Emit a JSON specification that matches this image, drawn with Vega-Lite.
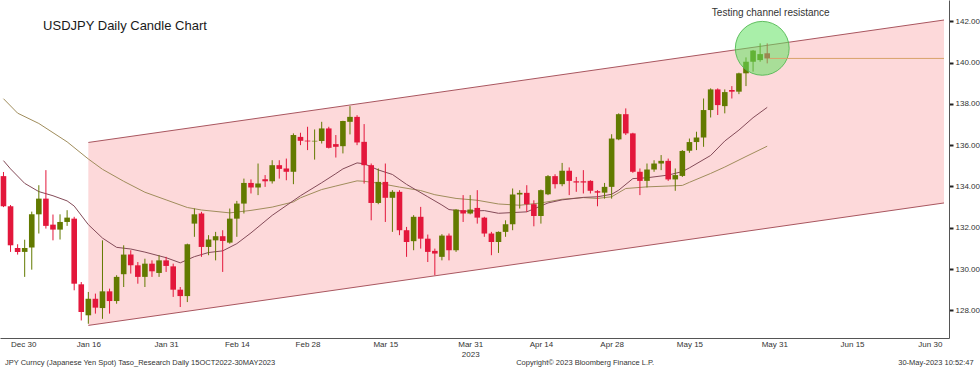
{
  "$schema": "https://vega.github.io/schema/vega-lite/v6.json",
  "width": 949,
  "height": 338,
  "autosize": {"type": "none"},
  "padding": {"left": 0, "top": 0, "right": 31, "bottom": 30},
  "background": "white",
  "config": {
    "view": {"stroke": null},
    "font": "Liberation Sans",
    "axis": {"grid": false, "labelFont": "Liberation Sans", "labelFontSize": 8, "labelColor": "#333333", "domainColor": "#555555", "tickColor": "#333333"}
  },
  "datasets": {
    "candles": [
      {"i": -1, "o": 134.50, "h": 134.70, "l": 133.00, "c": 133.04},
      {"i": 0, "o": 133.04, "h": 133.10, "l": 130.83, "c": 131.15},
      {"i": 1, "o": 131.02, "h": 131.20, "l": 130.70, "c": 130.83},
      {"i": 2, "o": 130.83, "h": 131.42, "l": 129.62, "c": 131.02},
      {"i": 3, "o": 131.04, "h": 132.78, "l": 129.97, "c": 132.65},
      {"i": 4, "o": 132.65, "h": 134.06, "l": 131.72, "c": 133.41},
      {"i": 5, "o": 133.41, "h": 134.79, "l": 131.96, "c": 132.09},
      {"i": 6, "o": 132.15, "h": 132.64, "l": 131.39, "c": 131.91},
      {"i": 7, "o": 131.91, "h": 132.65, "l": 131.43, "c": 132.28},
      {"i": 8, "o": 132.28, "h": 132.85, "l": 132.09, "c": 132.49},
      {"i": 9, "o": 132.44, "h": 132.53, "l": 128.97, "c": 129.29},
      {"i": 10, "o": 129.26, "h": 129.37, "l": 127.51, "c": 127.92},
      {"i": 11, "o": 127.76, "h": 128.89, "l": 127.35, "c": 128.56},
      {"i": 12, "o": 128.56, "h": 128.81, "l": 127.84, "c": 128.13},
      {"i": 13, "o": 128.11, "h": 131.39, "l": 127.59, "c": 128.92},
      {"i": 14, "o": 128.92, "h": 129.05, "l": 127.84, "c": 128.45},
      {"i": 15, "o": 128.45, "h": 129.70, "l": 128.32, "c": 129.62},
      {"i": 16, "o": 129.75, "h": 131.15, "l": 129.13, "c": 130.70},
      {"i": 17, "o": 130.70, "h": 130.91, "l": 129.78, "c": 130.18},
      {"i": 18, "o": 130.18, "h": 130.34, "l": 129.29, "c": 129.62},
      {"i": 19, "o": 129.62, "h": 130.50, "l": 129.13, "c": 130.26},
      {"i": 20, "o": 130.26, "h": 130.42, "l": 129.62, "c": 129.89},
      {"i": 21, "o": 129.81, "h": 130.67, "l": 129.62, "c": 130.42},
      {"i": 22, "o": 130.42, "h": 130.59, "l": 129.86, "c": 130.15},
      {"i": 23, "o": 130.13, "h": 130.26, "l": 128.65, "c": 129.00},
      {"i": 24, "o": 129.00, "h": 129.13, "l": 128.16, "c": 128.69},
      {"i": 25, "o": 128.69, "h": 131.23, "l": 128.40, "c": 131.20},
      {"i": 26, "o": 132.20, "h": 132.93, "l": 131.56, "c": 132.65},
      {"i": 27, "o": 132.69, "h": 132.77, "l": 130.59, "c": 131.07},
      {"i": 28, "o": 131.07, "h": 131.64, "l": 130.67, "c": 131.43},
      {"i": 29, "o": 131.39, "h": 131.80, "l": 130.42, "c": 131.59},
      {"i": 30, "o": 131.59, "h": 131.88, "l": 129.86, "c": 131.36},
      {"i": 31, "o": 131.28, "h": 132.93, "l": 131.23, "c": 132.44},
      {"i": 32, "o": 132.44, "h": 133.30, "l": 131.56, "c": 133.17},
      {"i": 33, "o": 133.17, "h": 134.38, "l": 132.69, "c": 134.17},
      {"i": 34, "o": 134.17, "h": 134.34, "l": 133.66, "c": 133.95},
      {"i": 35, "o": 133.95, "h": 135.11, "l": 133.58, "c": 134.14},
      {"i": 36, "o": 134.35, "h": 134.55, "l": 133.98, "c": 134.25},
      {"i": 37, "o": 134.25, "h": 135.27, "l": 134.14, "c": 135.03},
      {"i": 38, "o": 135.03, "h": 135.27, "l": 134.38, "c": 134.85},
      {"i": 39, "o": 134.87, "h": 135.35, "l": 134.30, "c": 134.71},
      {"i": 40, "o": 134.71, "h": 136.57, "l": 134.11, "c": 136.49},
      {"i": 41, "o": 136.40, "h": 136.60, "l": 136.00, "c": 136.21},
      {"i": 42, "o": 136.22, "h": 136.89, "l": 135.76, "c": 136.18},
      {"i": 43, "o": 136.18, "h": 136.76, "l": 135.30, "c": 136.21},
      {"i": 44, "o": 136.20, "h": 137.13, "l": 136.08, "c": 136.81},
      {"i": 45, "o": 136.81, "h": 136.89, "l": 135.84, "c": 135.87},
      {"i": 46, "o": 136.05, "h": 136.49, "l": 135.40, "c": 135.92},
      {"i": 47, "o": 135.95, "h": 137.18, "l": 135.60, "c": 137.17},
      {"i": 48, "o": 137.13, "h": 137.89, "l": 136.52, "c": 137.37},
      {"i": 49, "o": 137.37, "h": 137.45, "l": 136.00, "c": 136.13},
      {"i": 50, "o": 136.16, "h": 137.02, "l": 134.14, "c": 135.03},
      {"i": 51, "o": 135.03, "h": 135.11, "l": 132.36, "c": 133.20},
      {"i": 52, "o": 133.20, "h": 134.87, "l": 133.14, "c": 134.22},
      {"i": 53, "o": 134.22, "h": 135.11, "l": 132.28, "c": 133.45},
      {"i": 54, "o": 133.45, "h": 133.82, "l": 131.80, "c": 133.74},
      {"i": 55, "o": 133.74, "h": 133.82, "l": 131.64, "c": 131.88},
      {"i": 56, "o": 131.88, "h": 132.04, "l": 130.59, "c": 131.31},
      {"i": 57, "o": 131.35, "h": 132.61, "l": 130.91, "c": 132.53},
      {"i": 58, "o": 132.53, "h": 133.01, "l": 130.99, "c": 131.47},
      {"i": 59, "o": 131.47, "h": 131.67, "l": 130.34, "c": 130.83},
      {"i": 60, "o": 130.88, "h": 130.99, "l": 129.70, "c": 130.75},
      {"i": 61, "o": 130.59, "h": 131.69, "l": 130.42, "c": 131.62},
      {"i": 62, "o": 131.62, "h": 131.72, "l": 130.42, "c": 130.91},
      {"i": 63, "o": 130.91, "h": 132.90, "l": 130.83, "c": 132.88},
      {"i": 64, "o": 132.85, "h": 133.58, "l": 132.28, "c": 132.69},
      {"i": 65, "o": 132.69, "h": 133.58, "l": 132.65, "c": 132.88},
      {"i": 66, "o": 132.96, "h": 133.82, "l": 132.20, "c": 132.49},
      {"i": 67, "o": 132.49, "h": 132.53, "l": 131.56, "c": 131.72},
      {"i": 68, "o": 131.72, "h": 131.80, "l": 130.67, "c": 131.31},
      {"i": 69, "o": 131.31, "h": 131.82, "l": 130.78, "c": 131.80},
      {"i": 70, "o": 131.80, "h": 132.36, "l": 131.56, "c": 132.17},
      {"i": 71, "o": 132.17, "h": 133.90, "l": 131.88, "c": 133.61},
      {"i": 72, "o": 133.61, "h": 133.82, "l": 132.93, "c": 133.69},
      {"i": 73, "o": 133.69, "h": 134.06, "l": 132.77, "c": 133.14},
      {"i": 74, "o": 133.14, "h": 133.33, "l": 132.07, "c": 132.57},
      {"i": 75, "o": 132.57, "h": 133.85, "l": 132.20, "c": 133.82},
      {"i": 76, "o": 133.62, "h": 134.55, "l": 133.58, "c": 134.50},
      {"i": 77, "o": 134.50, "h": 134.59, "l": 133.90, "c": 134.11},
      {"i": 78, "o": 134.11, "h": 135.14, "l": 134.01, "c": 134.76},
      {"i": 79, "o": 134.76, "h": 134.92, "l": 133.58, "c": 134.27},
      {"i": 80, "o": 134.25, "h": 134.46, "l": 133.74, "c": 134.19},
      {"i": 81, "o": 134.25, "h": 134.79, "l": 133.66, "c": 134.19},
      {"i": 82, "o": 134.27, "h": 134.30, "l": 133.66, "c": 133.79},
      {"i": 83, "o": 133.77, "h": 133.82, "l": 133.04, "c": 133.70},
      {"i": 84, "o": 133.70, "h": 134.17, "l": 133.41, "c": 133.98},
      {"i": 85, "o": 133.98, "h": 136.53, "l": 133.41, "c": 136.32},
      {"i": 86, "o": 136.28, "h": 137.54, "l": 136.24, "c": 137.50},
      {"i": 87, "o": 137.50, "h": 137.78, "l": 136.49, "c": 136.57},
      {"i": 88, "o": 136.57, "h": 136.60, "l": 134.66, "c": 134.71},
      {"i": 89, "o": 134.71, "h": 134.87, "l": 133.58, "c": 134.27},
      {"i": 90, "o": 134.27, "h": 135.11, "l": 133.95, "c": 134.82},
      {"i": 91, "o": 134.82, "h": 135.27, "l": 134.71, "c": 135.11},
      {"i": 92, "o": 135.11, "h": 135.52, "l": 134.79, "c": 135.24},
      {"i": 93, "o": 135.24, "h": 135.35, "l": 134.27, "c": 134.34},
      {"i": 94, "o": 134.34, "h": 134.87, "l": 133.79, "c": 134.55},
      {"i": 95, "o": 134.51, "h": 135.76, "l": 134.46, "c": 135.72},
      {"i": 96, "o": 135.73, "h": 136.32, "l": 135.63, "c": 136.15},
      {"i": 97, "o": 136.15, "h": 136.65, "l": 135.76, "c": 136.37},
      {"i": 98, "o": 136.37, "h": 138.26, "l": 135.92, "c": 137.70},
      {"i": 99, "o": 137.70, "h": 138.75, "l": 137.34, "c": 138.70},
      {"i": 100, "o": 138.70, "h": 138.75, "l": 137.46, "c": 137.94},
      {"i": 101, "o": 137.89, "h": 138.70, "l": 137.54, "c": 138.57},
      {"i": 102, "o": 138.67, "h": 138.86, "l": 138.26, "c": 138.59},
      {"i": 103, "o": 138.59, "h": 139.51, "l": 138.47, "c": 139.48},
      {"i": 104, "o": 139.48, "h": 140.25, "l": 138.86, "c": 140.04},
      {"i": 105, "o": 140.04, "h": 140.61, "l": 139.56, "c": 140.58},
      {"i": 106, "o": 140.12, "h": 140.93, "l": 140.04, "c": 140.41},
      {"i": 107, "o": 140.45, "h": 140.93, "l": 139.96, "c": 140.20}
    ],
    "ma1": [
      {"i": -1, "v": 135.25}, {"i": 0, "v": 134.85}, {"i": 2, "v": 134.15}, {"i": 4, "v": 133.75},
      {"i": 6, "v": 133.55}, {"i": 8, "v": 133.3}, {"i": 9, "v": 133.05}, {"i": 11, "v": 132.15},
      {"i": 13, "v": 131.5}, {"i": 15, "v": 131.05}, {"i": 17, "v": 130.97}, {"i": 19, "v": 130.82},
      {"i": 22, "v": 130.55}, {"i": 24, "v": 130.3}, {"i": 26, "v": 130.6}, {"i": 28, "v": 130.8},
      {"i": 30, "v": 130.88}, {"i": 32, "v": 131.23}, {"i": 34, "v": 131.75}, {"i": 37, "v": 132.6},
      {"i": 41, "v": 133.55}, {"i": 44, "v": 134.18}, {"i": 46, "v": 134.62}, {"i": 47, "v": 134.85},
      {"i": 49, "v": 135.14}, {"i": 50, "v": 135.1}, {"i": 52, "v": 134.8}, {"i": 54, "v": 134.58},
      {"i": 56, "v": 134.1}, {"i": 59, "v": 133.5}, {"i": 61, "v": 133.1}, {"i": 62, "v": 132.88},
      {"i": 64, "v": 132.8}, {"i": 67, "v": 132.83}, {"i": 69, "v": 132.7}, {"i": 73, "v": 132.77},
      {"i": 76, "v": 133.2}, {"i": 78, "v": 133.35}, {"i": 81, "v": 133.47}, {"i": 83, "v": 133.5},
      {"i": 85, "v": 133.62}, {"i": 86, "v": 133.82}, {"i": 88, "v": 134.38}, {"i": 90, "v": 134.42},
      {"i": 93, "v": 134.55}, {"i": 95, "v": 134.72}, {"i": 96, "v": 134.9}, {"i": 99, "v": 135.5},
      {"i": 101, "v": 136.2}, {"i": 103, "v": 136.73}, {"i": 105, "v": 137.33}, {"i": 107, "v": 137.83}
    ],
    "ma2": [
      {"i": -1, "v": 138.25}, {"i": 1, "v": 137.55}, {"i": 4, "v": 137.05}, {"i": 8, "v": 136.16},
      {"i": 11, "v": 135.33}, {"i": 13, "v": 134.83}, {"i": 16, "v": 134.25}, {"i": 19, "v": 133.72},
      {"i": 22, "v": 133.35}, {"i": 25, "v": 132.98}, {"i": 27, "v": 132.86}, {"i": 31, "v": 132.72},
      {"i": 34, "v": 132.84}, {"i": 37, "v": 133.0}, {"i": 40, "v": 133.25}, {"i": 41, "v": 133.45},
      {"i": 44, "v": 133.85}, {"i": 46, "v": 134.02}, {"i": 49, "v": 134.27}, {"i": 50, "v": 134.25},
      {"i": 52, "v": 134.16}, {"i": 55, "v": 133.97}, {"i": 58, "v": 133.8}, {"i": 60, "v": 133.6},
      {"i": 63, "v": 133.42}, {"i": 66, "v": 133.33}, {"i": 69, "v": 133.15}, {"i": 72, "v": 133.09},
      {"i": 75, "v": 133.2}, {"i": 78, "v": 133.38}, {"i": 81, "v": 133.46}, {"i": 83, "v": 133.42},
      {"i": 85, "v": 133.5}, {"i": 87, "v": 133.9}, {"i": 90, "v": 133.98}, {"i": 93, "v": 134.02},
      {"i": 95, "v": 134.05}, {"i": 96, "v": 134.2}, {"i": 99, "v": 134.63}, {"i": 101, "v": 134.94},
      {"i": 104, "v": 135.45}, {"i": 107, "v": 135.95}
    ],
    "channel": [
      {"i": 11, "lo": 127.27, "hi": 136.13},
      {"i": 132, "lo": 133.2, "hi": 142.06}
    ],
    "one": [{"k": 1}]
  },
  "layer": [
    {
      "encoding": {
        "x": {
          "field": "i", "type": "quantitative", "title": null,
          "scale": {"domain": [-0.784, 132], "nice": false, "zero": false},
          "axis": {
            "values": [0, 5.5, 11, 16.5, 22, 27, 32, 37, 42, 47.5, 53, 59, 65, 70, 75, 80, 85, 90.5, 96, 102, 108, 113.5, 119, 124.5, 130],
            "labelExpr": "datum.value == 65 ? ['Mar 31', '2023'] : (indexof([0,11,22,32,42,53,75,85,96,108,119,130], datum.value) >= 0 ? ['Dec 30','Jan 16','Jan 31','Feb 14','Feb 28','Mar 15','Apr 14','Apr 28','May 15','May 31','Jun 15','Jun 30'][indexof([0,11,22,32,42,53,75,85,96,108,119,130], datum.value)] : '')",
            "tickOpacity": {"condition": {"test": "indexof([0,11,22,32,42,53,65,75,85,96,108,119,130], datum.value) >= 0", "value": 0}, "value": 1},
            "labelAlign": {"condition": {"test": "datum.value == 0", "value": "left"}, "value": "center"},
            "tickSize": 3,
            "labelPadding": -1,
            "labelLineHeight": 10,
            "labelOverlap": false,
            "labelBound": false,
            "domainColor": "#555555"
          }
        }
      },
      "layer": [
        {
          "data": {"name": "channel"},
          "mark": {"type": "area", "color": "#fdd9da", "clip": true},
          "encoding": {
            "y": {"field": "hi", "type": "quantitative", "title": null, "scale": {"domain": [126.66, 143.03], "nice": false, "zero": false}},
            "y2": {"field": "lo"}
          }
        },
        {
          "data": {"name": "channel"},
          "mark": {"type": "line", "color": "#a9565f", "strokeWidth": 1, "clip": true},
          "encoding": {
            "y": {"field": "hi", "type": "quantitative", "title": null, "scale": {"domain": [126.66, 143.03], "nice": false, "zero": false}}
          }
        },
        {
          "data": {"name": "channel"},
          "mark": {"type": "line", "color": "#a9565f", "strokeWidth": 1, "clip": true},
          "encoding": {
            "y": {"field": "lo", "type": "quantitative", "title": null, "scale": {"domain": [126.66, 143.03], "nice": false, "zero": false}}
          }
        },
        {
          "data": {"name": "ma2"},
          "mark": {"type": "line", "color": "#a08d5c", "strokeWidth": 1, "clip": true},
          "encoding": {
            "y": {"field": "v", "type": "quantitative", "title": null, "scale": {"domain": [126.66, 143.03], "nice": false, "zero": false}}
          }
        },
        {
          "data": {"name": "ma1"},
          "mark": {"type": "line", "color": "#844b58", "strokeWidth": 1, "clip": true},
          "encoding": {
            "y": {"field": "v", "type": "quantitative", "title": null, "scale": {"domain": [126.66, 143.03], "nice": false, "zero": false}}
          }
        },
        {
          "data": {"name": "candles"},
          "mark": {"type": "rule", "strokeWidth": 1, "clip": true},
          "encoding": {
            "y": {
              "field": "l", "type": "quantitative", "title": null,
              "scale": {"domain": [126.66, 143.03], "nice": false, "zero": false},
              "axis": {
                "orient": "right",
                "values": [128, 130, 132, 134, 136, 138, 140, 142],
                "format": ".2f",
                "tickSize": 4,
                "tickWidth": 2,
                "tickColor": "#222222",
                "labelPadding": 2,
                "labelOverlap": false,
                "domainColor": "#555555"
              }
            },
            "y2": {"field": "h"},
            "color": {"condition": {"test": "datum.c >= datum.o", "value": "#627a00"}, "value": "#e3173b"}
          }
        },
        {
          "data": {"name": "candles"},
          "mark": {"type": "bar", "width": 5.6, "clip": true},
          "encoding": {
            "y": {"field": "o", "type": "quantitative", "title": null, "scale": {"domain": [126.66, 143.03], "nice": false, "zero": false}},
            "y2": {"field": "c"},
            "color": {"condition": {"test": "datum.c >= datum.o", "value": "#627a00"}, "value": "#e3173b"}
          }
        }
      ]
    },
    {
      "data": {"name": "one"},
      "mark": {"type": "point", "shape": "circle", "filled": true, "size": 2900, "fill": "#62e262", "fillOpacity": 0.55, "stroke": "#52b852", "strokeWidth": 1, "strokeOpacity": 0.9},
      "encoding": {
        "x": {"datum": 106.3, "type": "quantitative"},
        "y": {"datum": 140.69, "type": "quantitative"}
      }
    },
    {
      "data": {"name": "one"},
      "mark": {"type": "rule", "color": "#d9a46a", "strokeWidth": 1},
      "encoding": {
        "x": {"datum": 107.3, "type": "quantitative"},
        "x2": {"datum": 132},
        "y": {"datum": 140.2, "type": "quantitative"}
      }
    },
    {
      "data": {"name": "one"},
      "mark": {"type": "text", "align": "left", "baseline": "middle", "fontSize": 13, "color": "#1a1a1a", "font": "Liberation Sans"},
      "encoding": {
        "x": {"datum": 4.6, "type": "quantitative"},
        "y": {"datum": 141.77, "type": "quantitative"},
        "text": {"value": "USDJPY Daily Candle Chart"}
      }
    },
    {
      "data": {"name": "one"},
      "mark": {"type": "text", "align": "center", "baseline": "middle", "fontSize": 10, "color": "#333333", "font": "Liberation Sans"},
      "encoding": {
        "x": {"datum": 107.5, "type": "quantitative"},
        "y": {"datum": 142.42, "type": "quantitative"},
        "text": {"value": "Testing channel resistance"}
      }
    },
    {
      "data": {"name": "one"},
      "mark": {"type": "text", "align": "left", "baseline": "middle", "fontSize": 7.5, "color": "#333333", "font": "Liberation Sans"},
      "encoding": {
        "x": {"datum": -0.784, "type": "quantitative"},
        "y": {"datum": 125.46, "type": "quantitative"},
        "text": {"value": "JPY Curncy (Japanese Yen Spot) Taso_Research  Daily 15OCT2022-30MAY2023"}
      }
    },
    {
      "data": {"name": "one"},
      "mark": {"type": "text", "align": "left", "baseline": "middle", "fontSize": 7.5, "color": "#333333", "font": "Liberation Sans"},
      "encoding": {
        "x": {"datum": 71.5, "type": "quantitative"},
        "y": {"datum": 125.46, "type": "quantitative"},
        "text": {"value": "Copyright© 2023 Bloomberg Finance L.P."}
      }
    },
    {
      "data": {"name": "one"},
      "mark": {"type": "text", "align": "right", "baseline": "middle", "fontSize": 7.5, "color": "#333333", "font": "Liberation Sans"},
      "encoding": {
        "x": {"datum": 136.2, "type": "quantitative"},
        "y": {"datum": 125.46, "type": "quantitative"},
        "text": {"value": "30-May-2023 10:52:47"}
      }
    }
  ]
}
